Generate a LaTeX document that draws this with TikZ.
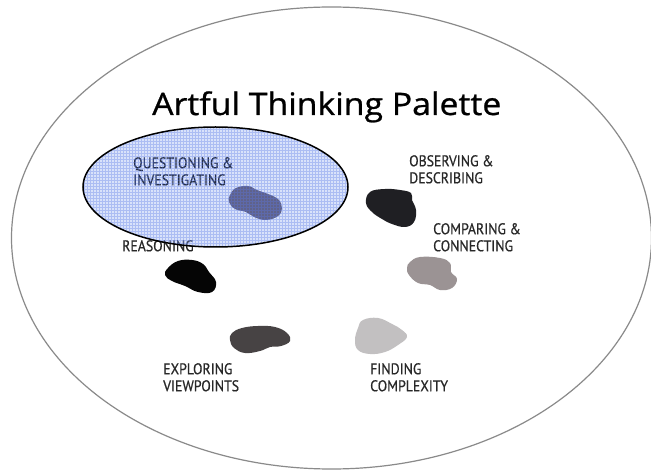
\documentclass[tikz,border=0pt]{standalone}
\usepackage{fontspec}
\newfontfamily\lblfont[FakeStretch=0.89, FakeBold=0.6]{PT Sans}
\newfontfamily\ttlfont[FakeStretch=1.09, FakeBold=0.8]{Open Sans}
\definecolor{bigedge}{RGB}{138,138,138}
\definecolor{lbltext}{RGB}{40,40,40}
\definecolor{qfill}{RGB}{130,160,240}
\definecolor{qgrid}{RGB}{90,120,230}
\definecolor{blobq}{RGB}{80,72,95}
\definecolor{blobo}{RGB}{31,31,35}
\definecolor{blobc}{RGB}{155,147,148}
\definecolor{blobr}{RGB}{5,5,5}
\definecolor{blobe}{RGB}{71,67,68}
\definecolor{blobf}{RGB}{194,192,193}
\tikzset{
  lbl/.style={anchor=north west, inner sep=0pt, align=left, text=lbltext,
    font=\lblfont\fontsize{15.5}{17}\selectfont},
  blob/.style={line join=round}
}
\begin{document}
\begin{tikzpicture}[x=1pt,y=-1pt]
\useasboundingbox (0,0) rectangle (651,470);
\fill[white] (0,0) rectangle (651,470);
% outer palette
\draw[bigedge, line width=1.2pt] (331.5,238) ellipse [x radius=320, y radius=231];
% title
\node[anchor=base west, inner sep=0pt, font=\ttlfont\fontsize{31}{33}\selectfont] (title) at (152,115) {Artful Thinking Palette};
% blobs
\fill[blobq, blob] plot[smooth cycle, tension=0.7] coordinates {(230,195) (236,188) (248,186) (257,190) (268,194) (278,199) (282,208) (278,216) (266,220) (254,217) (246,212) (235,209) (229,202)};
\fill[blobo, blob] plot[smooth cycle, tension=0.7] coordinates {(370,192) (385,189) (400,190) (411,193) (412,200) (416,210) (414,222) (405,227) (392,224) (382,219) (372,212) (366,203)};
\fill[blobc, blob] plot[smooth cycle, tension=0.7] coordinates {(410,262) (420,257) (440,258) (450,263) (451,272) (457,279) (452,288) (440,290) (430,285) (418,283) (409,275) (407,268)};
\fill[blobr, blob] plot[smooth cycle, tension=0.7] coordinates {(168,268) (178,261) (192,260) (203,264) (209,272) (216,282) (212,292) (198,292) (185,286) (172,281) (165,275)};
\fill[blobe, blob] plot[smooth cycle, tension=0.7] coordinates {(232,333) (242,328) (258,326) (275,327) (287,333) (290,341) (281,346) (270,347) (260,351) (245,353) (234,348) (230,340)};
\fill[blobf, blob] plot[smooth cycle, tension=0.7] coordinates {(358,328) (363,320) (378,318) (392,324) (402,330) (407,337) (398,345) (385,352) (370,354) (358,350) (355,340)};
% labels
\node[lbl, text=black] (quest) at (133,157) {QUESTIONING \&\\INVESTIGATING};
\node[lbl] (obs) at (409,155) {OBSERVING \&\\DESCRIBING};
\node[lbl] (comp) at (433,223) {COMPARING \&\\CONNECTING};
\node[lbl] (reas) at (122,240) {REASONING};
\node[lbl] (expl) at (163,363) {EXPLORING\\VIEWPOINTS};
\node[lbl] (find) at (370,363) {FINDING\\COMPLEXITY};
% highlight ellipse
\fill[qfill, fill opacity=0.3] (215.5,187) ellipse [x radius=132.5, y radius=60];
\begin{scope}
  \clip (215.5,187) ellipse [x radius=132.5, y radius=60];
  \draw[qgrid, line width=0.35pt, opacity=0.35, step=3pt] (80,125) grid (350,250);
\end{scope}
\draw[black, line width=1.5pt] (215.5,187) ellipse [x radius=132.5, y radius=60];
\end{tikzpicture}
\end{document}
